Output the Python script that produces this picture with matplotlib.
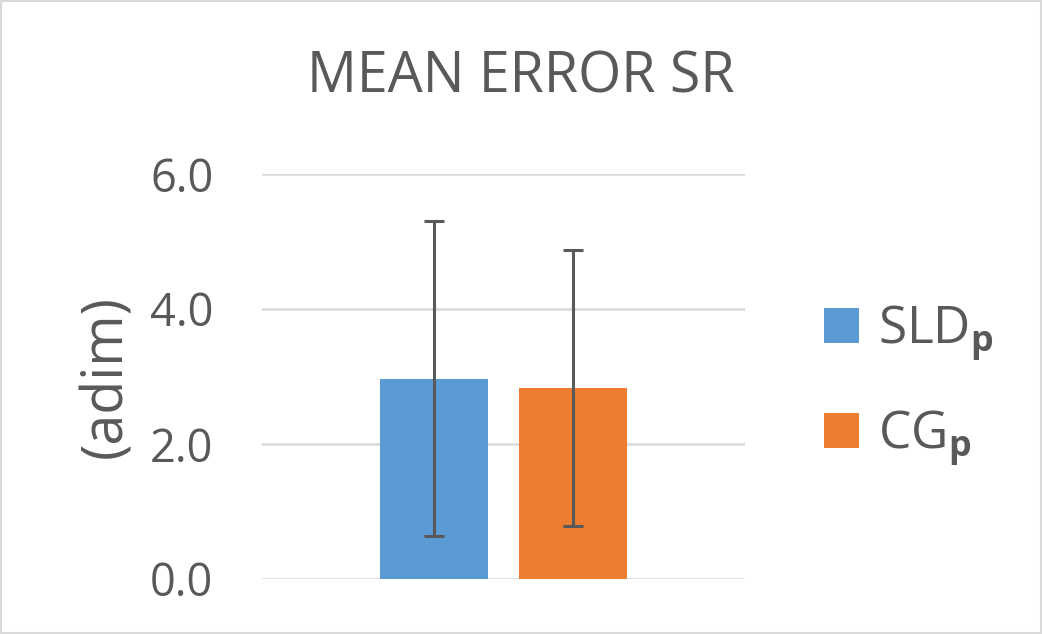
import numpy as np
import matplotlib
matplotlib.use("Agg")
from matplotlib import pyplot as plt
from matplotlib.patches import Patch, Rectangle

# --- data
series = ['SLD$_\\mathbf{p}$', 'CG$_\\mathbf{p}$']
means = [2.97, 2.83]
errors = [2.33, 2.05]
colors = ['#5B9BD5', '#ED7D31']
yticks = [0.0, 2.0, 4.0, 6.0]

txt = '#595959'
plt.rcParams['font.family'] = ['Open Sans', 'DejaVu Sans']
plt.rcParams['mathtext.fontset'] = 'custom'
plt.rcParams['mathtext.rm'] = 'Open Sans'
plt.rcParams['mathtext.bf'] = 'Open Sans:bold'

fig = plt.figure(figsize=(10.42, 6.34), dpi=100)
ax = fig.add_axes([262/1042, 1 - 579/634, (745 - 262)/1042, (579 - 174)/634])

# bars
width = 0.2236
offsets = [-0.1429, 0.1429]
for off, m, e, c in zip(offsets, means, errors, colors):
    ax.bar(off, m, width=width, color=c, zorder=2)
    ax.errorbar(off, m, yerr=e, fmt='none', ecolor=txt, elinewidth=2.2,
                capsize=7.5, capthick=2.2, zorder=3)

ax.set_xlim(-0.5, 0.5)
ax.set_ylim(0, 6)
ax.set_yticks(yticks)
ax.set_yticklabels(['%.1f' % v for v in yticks])
ax.set_xticks([])
ax.grid(axis='y', color='#D9D9D9', linewidth=1.8, zorder=0)
ax.tick_params(axis='y', length=0, pad=35, labelsize=32.5, labelcolor=txt)
for s in ax.spines.values():
    s.set_visible(False)

ax.set_ylabel('(adim)', fontsize=40, color=txt)
ax.yaxis.set_label_coords(135/1042, 1 - 377/634, transform=fig.transFigure)

fig.text(521/1042, 1 - 78/634, 'MEAN ERROR SR', ha='center', va='center',
         fontsize=40, color=txt)

# legend
handles = [Patch(facecolor=c) for c in colors]
fig.legend(handles, series, loc='upper left', bbox_to_anchor=(824/1042, 1 - 303/634),
           frameon=False, fontsize=37, labelcolor=txt, handlelength=0.68,
           handleheight=0.68, handletextpad=0.38, labelspacing=0.87,
           borderpad=0, borderaxespad=0)

# light border around the chart
fig.patches.append(Rectangle((0.001, 0.001), 0.998, 0.997, transform=fig.transFigure,
                             fill=False, edgecolor='#D9D9D9', linewidth=1.5))

fig.savefig('out.png', dpi=100)
